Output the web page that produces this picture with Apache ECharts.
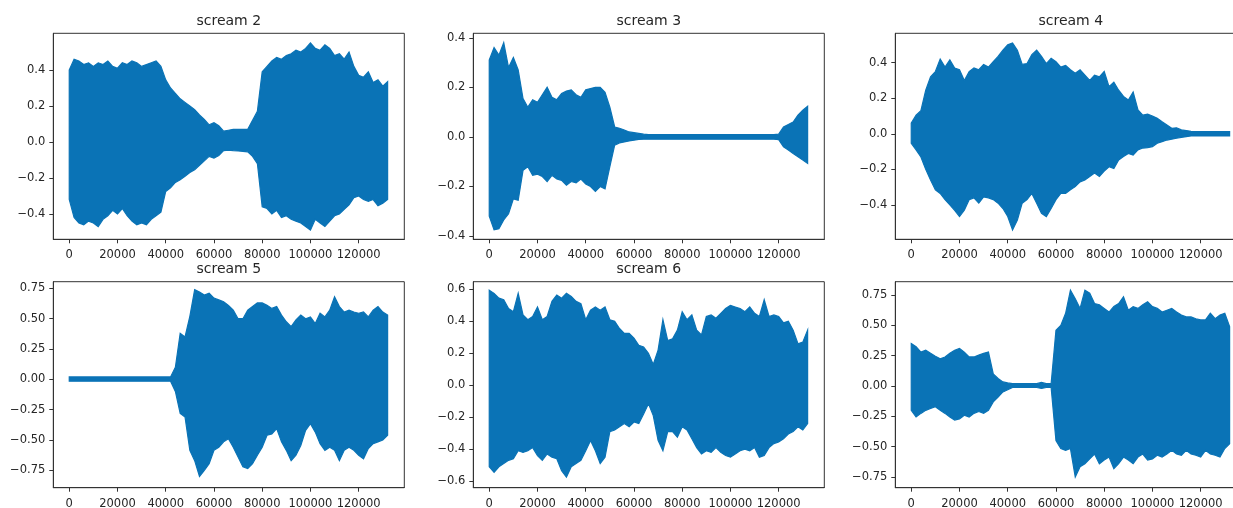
<!DOCTYPE html>
<html>
<head>
<meta charset="utf-8">
<script src="https://cdn.jsdelivr.net/npm/echarts@6/dist/echarts.min.js"></script>
<style>html,body{margin:0;padding:0;background:#fff}#c{width:1233px;height:508px}</style>
</head>
<body>
<div id="c"></div>
<script>
// sample positions (samples)
const X = [0,2000,4000,6000,8000,10000,12000,14000,16000,18000,20000,22000,24000,26000,28000,30000,32000,34000,36000,38000,40000,42000,44000,46000,48000,50000,52000,54000,56000,58000,60000,62000,64000,66000,68000,70000,72000,74000,76000,78000,80000,82000,84000,86000,88000,90000,92000,94000,96000,98000,100000,102000,104000,106000,108000,110000,112000,114000,116000,118000,120000,122000,124000,126000,128000,130000,132000];

const TITLES = ['scream 2','scream 3','scream 4','scream 5','scream 6',''];
const X_TICKS = [0,20000,40000,60000,80000,100000,120000];
const Y_TICKS_A = [-0.4,-0.2,0,0.2,0.4];
const Y_TICKS_B = [-0.75,-0.5,-0.25,0,0.25,0.5,0.75];
const Y_TICKS_C = [-0.6,-0.4,-0.2,0,0.2,0.4,0.6];

// envelope (upper / lower) of each waveform
const s2Hi = [0.40,0.46,0.45,0.43,0.44,0.42,0.44,0.43,0.45,0.42, 0.41,0.44,0.43,0.45,0.44,0.42,0.43,0.44,0.45,0.42, 0.345,0.30,0.27,0.24,0.22,0.20,0.18,0.15,0.125,0.095, 0.107,0.09,0.06,0.065,0.07,0.07,0.07,0.07,0.12,0.17, 0.39,0.42,0.45,0.47,0.46,0.48,0.49,0.51,0.50,0.52, 0.55,0.52,0.51,0.54,0.52,0.48,0.49,0.46,0.50,0.42, 0.37,0.36,0.39,0.33,0.345,0.31,0.335];
const s2Lo = [-0.32,-0.42,-0.45,-0.46,-0.44,-0.45,-0.47,-0.43,-0.41,-0.38, -0.40,-0.37,-0.41,-0.44,-0.46,-0.45,-0.46,-0.43,-0.41,-0.39, -0.275,-0.255,-0.225,-0.21,-0.19,-0.17,-0.155,-0.13,-0.105,-0.08, -0.09,-0.075,-0.048,-0.045,-0.048,-0.05,-0.052,-0.055,-0.08,-0.12, -0.36,-0.37,-0.40,-0.38,-0.42,-0.41,-0.43,-0.44,-0.45,-0.47, -0.49,-0.43,-0.45,-0.47,-0.44,-0.41,-0.40,-0.375,-0.35,-0.31, -0.30,-0.32,-0.33,-0.32,-0.355,-0.34,-0.32];

const s3Hi = [0.31,0.36,0.33,0.38,0.28,0.32,0.27,0.155,0.12,0.15, 0.14,0.17,0.20,0.16,0.15,0.175,0.185,0.19,0.17,0.16, 0.19,0.195,0.20,0.20,0.18,0.12,0.04,0.035,0.028,0.02, 0.017,0.014,0.011,0.009,0.009,0.009,0.009,0.009,0.009,0.009, 0.009,0.009,0.009,0.009,0.009,0.009,0.009,0.009,0.009,0.009, 0.009,0.009,0.009,0.009,0.009,0.009,0.009,0.009,0.009,0.009, 0.011,0.04,0.05,0.06,0.088,0.108,0.124];
const s3Lo = [-0.32,-0.375,-0.37,-0.335,-0.31,-0.25,-0.255,-0.135,-0.12,-0.155, -0.15,-0.16,-0.18,-0.155,-0.17,-0.175,-0.195,-0.18,-0.185,-0.17, -0.19,-0.20,-0.22,-0.20,-0.21,-0.12,-0.033,-0.024,-0.02,-0.016, -0.013,-0.01,-0.009,-0.009,-0.009,-0.009,-0.009,-0.009,-0.009,-0.009, -0.009,-0.009,-0.009,-0.009,-0.009,-0.009,-0.009,-0.009,-0.009,-0.009, -0.009,-0.009,-0.009,-0.009,-0.009,-0.009,-0.009,-0.009,-0.009,-0.009, -0.011,-0.04,-0.053,-0.067,-0.08,-0.093,-0.107];

const s4Hi = [0.06,0.105,0.13,0.245,0.32,0.35,0.42,0.375,0.415,0.37, 0.36,0.30,0.35,0.37,0.36,0.39,0.375,0.405,0.435,0.47, 0.50,0.51,0.47,0.39,0.395,0.445,0.47,0.435,0.395,0.425, 0.405,0.375,0.385,0.36,0.34,0.36,0.33,0.30,0.33,0.32, 0.35,0.265,0.29,0.245,0.21,0.19,0.235,0.135,0.105,0.11, 0.10,0.087,0.068,0.05,0.031,0.034,0.022,0.018,0.014,0.012, 0.012,0.012,0.012,0.012,0.012,0.012,0.012];
const s4Lo = [-0.053,-0.09,-0.13,-0.2,-0.26,-0.315,-0.335,-0.37,-0.40,-0.43, -0.465,-0.43,-0.37,-0.36,-0.39,-0.355,-0.36,-0.37,-0.39,-0.42, -0.465,-0.54,-0.485,-0.39,-0.37,-0.335,-0.39,-0.447,-0.465,-0.42, -0.37,-0.335,-0.335,-0.315,-0.297,-0.27,-0.26,-0.24,-0.22,-0.24, -0.21,-0.185,-0.195,-0.147,-0.128,-0.11,-0.12,-0.09,-0.08,-0.078, -0.072,-0.053,-0.044,-0.035,-0.03,-0.025,-0.02,-0.016,-0.012,-0.012, -0.012,-0.012,-0.012,-0.012,-0.012,-0.012,-0.012];

const s5Hi = [0.02,0.02,0.02,0.02,0.02,0.02,0.02,0.02,0.02,0.02, 0.02,0.02,0.02,0.02,0.02,0.02,0.02,0.02,0.02,0.02, 0.02,0.02,0.10,0.38,0.35,0.52,0.74,0.72,0.695,0.71, 0.67,0.655,0.64,0.61,0.57,0.50,0.50,0.57,0.60,0.63, 0.63,0.61,0.585,0.60,0.53,0.475,0.435,0.49,0.53,0.50, 0.515,0.46,0.545,0.515,0.57,0.68,0.60,0.555,0.57,0.555, 0.545,0.555,0.515,0.57,0.60,0.555,0.53];
const s5Lo = [-0.015,-0.015,-0.015,-0.015,-0.015,-0.015,-0.015,-0.015,-0.015,-0.015, -0.015,-0.015,-0.015,-0.015,-0.015,-0.015,-0.015,-0.015,-0.015,-0.015, -0.015,-0.015,-0.10,-0.28,-0.31,-0.585,-0.67,-0.80,-0.75,-0.695, -0.585,-0.56,-0.515,-0.49,-0.56,-0.64,-0.72,-0.735,-0.695,-0.625, -0.56,-0.46,-0.45,-0.405,-0.515,-0.585,-0.67,-0.625,-0.545,-0.42, -0.365,-0.435,-0.53,-0.585,-0.56,-0.585,-0.67,-0.585,-0.56,-0.585, -0.625,-0.655,-0.57,-0.53,-0.515,-0.50,-0.46];

const s6Hi = [0.595,0.575,0.545,0.535,0.48,0.46,0.575,0.44,0.41,0.43, 0.49,0.41,0.43,0.525,0.565,0.545,0.575,0.555,0.525,0.51, 0.41,0.47,0.49,0.47,0.49,0.41,0.40,0.355,0.325,0.325, 0.295,0.25,0.24,0.20,0.13,0.22,0.41,0.28,0.29,0.345, 0.46,0.41,0.44,0.345,0.315,0.43,0.44,0.42,0.45,0.48, 0.50,0.49,0.48,0.46,0.49,0.45,0.43,0.535,0.43,0.44, 0.43,0.39,0.40,0.345,0.26,0.27,0.345];
const s6Lo = [-0.51,-0.545,-0.51,-0.49,-0.47,-0.46,-0.41,-0.42,-0.41,-0.39, -0.44,-0.47,-0.43,-0.45,-0.46,-0.535,-0.575,-0.51,-0.49,-0.47, -0.41,-0.345,-0.41,-0.49,-0.45,-0.29,-0.28,-0.26,-0.24,-0.26, -0.23,-0.24,-0.18,-0.115,-0.19,-0.345,-0.41,-0.29,-0.29,-0.325, -0.26,-0.28,-0.335,-0.39,-0.43,-0.41,-0.42,-0.39,-0.42,-0.44, -0.45,-0.43,-0.41,-0.40,-0.41,-0.39,-0.45,-0.44,-0.39,-0.365, -0.355,-0.335,-0.305,-0.29,-0.26,-0.28,-0.24];

const s7Hi = [0.35,0.325,0.28,0.295,0.27,0.245,0.225,0.24,0.27,0.295, 0.31,0.28,0.24,0.24,0.255,0.27,0.28,0.10,0.062,0.034, 0.026,0.02,0.02,0.02,0.02,0.02,0.02,0.03,0.02,0.02, 0.46,0.50,0.60,0.79,0.72,0.64,0.79,0.765,0.68,0.67, 0.64,0.61,0.655,0.68,0.735,0.625,0.655,0.64,0.67,0.695, 0.655,0.64,0.61,0.625,0.64,0.61,0.585,0.57,0.57,0.555, 0.545,0.545,0.60,0.555,0.585,0.60,0.49];
const s7Lo = [-0.2,-0.255,-0.225,-0.2,-0.185,-0.17,-0.2,-0.225,-0.255,-0.28, -0.27,-0.24,-0.255,-0.225,-0.21,-0.225,-0.2,-0.13,-0.09,-0.048, -0.03,-0.012,-0.012,-0.012,-0.012,-0.012,-0.012,-0.02,-0.012,-0.012, -0.45,-0.515,-0.53,-0.515,-0.75,-0.665,-0.64,-0.6,-0.56,-0.64, -0.61,-0.585,-0.68,-0.64,-0.585,-0.61,-0.64,-0.585,-0.56,-0.61, -0.6,-0.57,-0.585,-0.56,-0.53,-0.56,-0.57,-0.53,-0.56,-0.57, -0.585,-0.53,-0.56,-0.57,-0.585,-0.515,-0.475];

const HI = [s2Hi, s3Hi, s4Hi, s5Hi, s6Hi, s7Hi];
const LO = [s2Lo, s3Lo, s4Lo, s5Lo, s6Lo, s7Lo];
const Y_TICKS = [Y_TICKS_A, Y_TICKS_A, Y_TICKS_A, Y_TICKS_B, Y_TICKS_C, Y_TICKS_B];
const Y_DEC = [1,1,1,2,1,2];
const Y_RANGE = [[-0.541,0.604],[-0.413,0.418],[-0.593,0.565],[-0.893,0.805],[-0.641,0.648],[-0.8375,0.86]];
const X_RANGE = [-6615, 138915];

// layout
const COL_LEFT = [53.3, 473.3, 895.3];
const ROW_TOP = [33.3, 281.7];
const BOX_W = 351, BOX_H = 206;
const BLUE = '#0a73b6';
const TXT = '#262626';
const FONT = 'DejaVu Sans';

const grids = [], xAxes = [], yAxes = [], series = [], titles = [];
for (let i = 0; i < 6; i++) {
  const r = Math.floor(i / 3), c = i % 3;
  grids.push({left: COL_LEFT[c], top: ROW_TOP[r], width: BOX_W, height: BOX_H,
    outerBoundsMode: 'none', containLabel: false,
    show: true, borderColor: '#333', borderWidth: 1, backgroundColor: 'transparent'});
  xAxes.push({type: 'value', gridIndex: i, min: X_RANGE[0], max: X_RANGE[1],
    axisLine: {show: true, onZero: false, lineStyle: {color: '#333', width: 1}},
    axisTick: {show: true, length: 4, lineStyle: {color: '#333'}, customValues: X_TICKS},
    axisLabel: {customValues: X_TICKS, color: TXT, fontFamily: FONT, fontSize: 11.5, margin: 10,
      formatter: v => String(Math.round(v))},
    splitLine: {show: false}});
  const dec = Y_DEC[i];
  yAxes.push({type: 'value', gridIndex: i, min: Y_RANGE[i][0], max: Y_RANGE[i][1],
    axisLine: {show: true, onZero: false, lineStyle: {color: '#333', width: 1}},
    axisTick: {show: true, length: 4, lineStyle: {color: '#333'}, customValues: Y_TICKS[i]},
    axisLabel: {customValues: Y_TICKS[i], color: TXT, fontFamily: FONT, fontSize: 11.5, margin: 8,
      formatter: v => { const s = Math.abs(v).toFixed(dec); return (v < -1e-9 ? '\u2212' : '') + s; }},
    splitLine: {show: false}});
  if (TITLES[i]) {
    titles.push({text: TITLES[i], left: COL_LEFT[c] + BOX_W / 2 - 5, top: ROW_TOP[r] - 24, textAlign: 'center',
      textStyle: {color: TXT, fontFamily: FONT, fontSize: 14, fontWeight: 'normal'}});
  }
  const hi = HI[i], lo = LO[i];
  const data = X.map((x, k) => [x, hi[k], lo[k]]);
  series.push({type: 'custom', xAxisIndex: i, yAxisIndex: i, data: data, clip: true,
    encode: {x: 0, y: [1, 2]},
    renderItem: function (params, api) {
      if (params.dataIndex !== 0) return null;
      const top = data.map(d => api.coord([d[0], d[1]]));
      const bot = data.map(d => api.coord([d[0], d[2]])).reverse();
      return {type: 'polygon', shape: {points: top.concat(bot)}, style: {fill: BLUE, stroke: BLUE, lineWidth: 1.2}};
    }});
}

const chart = echarts.init(document.getElementById('c'), null, {renderer: 'canvas'});
chart.setOption({animation: false, backgroundColor: '#fff', title: titles, grid: grids, xAxis: xAxes, yAxis: yAxes, series: series});
</script>
</body>
</html>
